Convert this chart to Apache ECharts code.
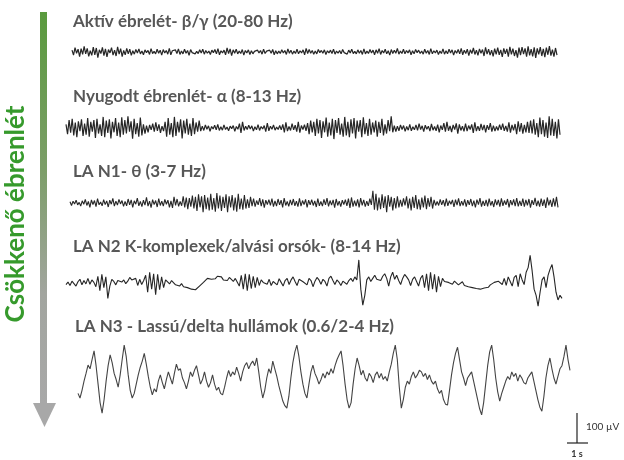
<!DOCTYPE html>
<html><head><meta charset="utf-8">
<script src="https://cdn.jsdelivr.net/npm/echarts@6/dist/echarts.min.js"></script>
<style>html,body{margin:0;padding:0;background:#fff}#c{width:624px;height:460px}</style>
</head><body><div id="c"></div>
<script>
// Trace titles
const titles = [
  "Aktív ébrelét- β/γ (20-80 Hz)",
  "Nyugodt ébrenlét- α (8-13 Hz)",
  "LA N1- θ (3-7 Hz)",
  "LA N2 K-komplexek/alvási orsók- (8-14 Hz)",
  "LA N3 - Lassú/delta hullámok (0.6/2-4 Hz)"
];
const axisTitle = "Csökkenő ébrenlét";
const scaleV = "100 µV";
const scaleT = "1 s";

// EEG traces in µV
const betaGamma = [
6,-10,14,-4,9,-15,11,-8,18,-6,12,-14,4,-11,16,-9,13,-18,7,-5,
15,-12,10,-16,8,-3,14,-10,6,-13,17,-7,11,-15,5,-9,12,-6,9,-11,
4,-7,8,-3,10,-6,3,-9,7,-2,5,-8,11,-5,2,-6,9,-4,6,-10,
8,-3,5,-7,12,-9,4,-2,7,-5,10,-8,3,-6,9,-4,5,-11,8,-2,
4,-6,2,-5,7,-3,9,-7,5,-4,3,-8,6,-2,8,-6,11,-9,4,-3,
6,-9,13,-5,10,-12,7,-4,9,-6,3,-5,8,-10,5,-3,7,-8,4,-6,
2,-4,6,-3,5,-7,9,-5,3,-2,6,-4,8,-9,4,-6,3,-5,7,-3,
5,-8,10,-4,6,-7,3,-5,9,-6,4,-3,7,-9,12,-5,8,-4,5,-7,
3,-6,8,-2,5,-4,7,-8,4,-3,6,-5,9,-7,3,-4,5,-6,8,-2,
4,-7,6,-3,9,-5,2,-6,7,-4,5,-8,10,-6,3,-5,8,-3,6,-9,
7,-4,11,-8,5,-3,9,-6,4,-10,8,-5,6,-4,12,-7,3,-5,9,-6,
5,-3,7,-9,4,-6,8,-2,6,-5,3,-7,9,-4,5,-8,11,-6,4,-3,
6,-8,3,-5,10,-7,4,-6,9,-3,7,-10,5,-4,8,-6,12,-9,6,-5,
9,-12,7,-5,13,-8,6,-11,10,-4,8,-13,15,-7,9,-10,6,-14,11,-8,
14,-9,7,-16,12,-6,10,-15,17,-8,11,-13,6,-18,14,-10,16,-7,12,-15,
18,-11,9,-14,15,-19,12,-8,16,-13,10,-17,14,-9,19,-12,8,-15,13,-10];

const alpha = [
12,-20,26,-15,30,-24,18,-30,22,-10,28,-26,14,-22,32,-28,20,-12,26,-32,
30,-18,12,-26,36,-30,24,-16,28,-34,20,-14,32,-26,18,-30,35,-22,26,-18,
38,-12,22,-35,30,-20,16,-28,34,-24,12,-18,8,-14,10,-6,14,-12,18,-9,
12,-16,6,-10,20,-28,32,-22,16,-30,36,-26,20,-14,28,-34,24,-18,30,-22,
14,-26,32,-20,18,-12,24,-10,6,-8,10,-4,7,-11,5,-3,9,-6,12,-8,
4,-7,10,-5,3,-9,6,-2,8,-11,5,-4,14,-16,20,-8,6,-5,9,-3,
7,-10,4,-6,11,-8,5,-3,8,-12,16,-9,6,-4,10,-7,3,-5,8,-6,
12,-14,18,-10,5,-8,14,-6,9,-12,20,-15,8,-5,11,-9,16,-20,24,-14,
20,-26,30,-18,26,-32,22,-14,34,-28,18,-24,30,-36,26,-16,32,-22,14,-28,
36,-24,20,-30,28,-18,32,-34,24,-12,26,-30,35,-20,16,-26,30,-22,18,-14,
24,-28,20,-16,30,-24,12,-18,26,-10,38,-14,8,-12,6,-9,10,-5,8,-11,
5,-7,12,-9,4,-6,10,-8,14,-5,7,-12,9,-4,6,-10,13,-7,5,-9,
11,-14,8,-6,16,-12,20,-9,7,-13,10,-5,15,-18,12,-8,6,-11,14,-10,
8,-5,12,-16,18,-10,6,-9,13,-7,10,-14,9,-6,16,-12,8,-10,5,-8,
11,-6,14,-9,7,-12,18,-15,10,-8,13,-20,22,-12,16,-18,10,-14,20,-16,
24,-18,28,-22,16,-30,34,-20,26,-28,18,-32,38,-24,30,-26,20,-34,28,-22];

const theta = [
4,-8,6,-3,9,-6,2,-10,7,-4,12,-8,5,-14,10,-5,8,-12,14,-6,
3,-9,11,-5,7,-13,9,-4,15,-10,6,-7,12,-3,8,-11,5,-9,13,-6,
10,-14,7,-4,16,-9,5,-12,9,-7,18,-10,6,-15,11,-5,8,-13,14,-8,
6,-10,12,-4,9,-14,7,-16,20,-8,13,-11,5,-9,22,-14,18,-20,16,-12,
24,-18,20,-26,28,-14,22,-30,26,-20,18,-24,30,-22,16,-28,32,-18,24,-26,
20,-16,28,-30,22,-14,26,-24,18,-28,30,-20,14,-22,26,-18,12,-16,20,-10,
14,-12,8,-6,16,-10,12,-15,9,-5,11,-8,14,-12,7,-10,13,-6,9,-14,
16,-8,5,-11,10,-7,13,-9,6,-12,15,-10,8,-5,12,-14,9,-6,11,-8,
7,-13,14,-9,5,-10,12,-6,16,-11,8,-7,10,-15,13,-8,6,-12,9,-5,
11,-9,14,-16,18,-12,8,-10,12,-14,16,-8,10,-12,6,-9,14,-6,40,-22,
30,-24,18,-20,28,-16,22,-30,26,-12,20,-24,16,-18,22,-14,10,-12,15,-8,
22,-18,14,-24,20,-16,26,-20,12,-22,18,-14,24,-20,16,-12,20,-18,10,-8,
5,-8,12,-6,9,-11,14,-9,7,-4,10,-13,11,-7,15,-10,6,-8,12,-12,
9,-6,13,-10,8,-14,11,-5,16,-12,7,-9,10,-11,14,-8,6,-13,12,-7,
10,-12,15,-9,8,-6,13,-14,9,-7,12,-10,16,-11,7,-9,14,-12,10,-8,
13,-15,9,-6,17,-10,8,-12,14,-9,11,-16,18,-8,10,-13,15,-11,20,-14];

const n2 = [
-5,3,-8,6,-2,-10,4,12,-6,8,-3,15,-4,10,2,-12,22,-25,28,-15,
20,-50,-10,12,5,-6,8,14,3,10,-2,6,18,10,4,15,-8,12,-5,8,
25,-30,35,-20,30,-38,28,-22,20,-15,10,5,-3,8,2,-6,-4,-10,-2,-12,
-8,-15,-10,-20,-14,-22,-16,-10,-5,2,8,15,20,12,18,14,22,16,20,10,
14,8,18,12,5,15,20,-10,25,-20,30,-25,28,-18,22,-15,18,-8,10,2,
8,-4,12,-8,5,10,-6,14,2,-10,8,15,-5,10,20,5,-8,12,18,4,
10,-6,15,8,-12,6,18,10,-4,12,5,-10,15,22,8,-5,10,3,-8,6,
12,-4,8,15,5,20,10,75,-20,-72,-40,10,20,5,15,25,12,18,8,22,
30,15,-10,20,35,12,25,8,-5,15,28,20,10,-8,12,20,5,-10,15,25,
-15,30,-25,35,-20,28,-30,22,-12,15,5,10,2,8,-4,6,0,-6,-2,4,
-8,-4,-12,-6,-15,-10,-18,-12,-20,-14,-16,-10,-14,-6,-8,2,-4,6,10,-5,
15,-8,20,5,-10,18,25,-12,30,10,-5,35,50,90,40,-20,-40,-75,-30,10,
20,-15,25,45,60,20,-30,-55,-40,-50];

const delta = [
-50,-65,-40,-10,15,42,30,60,88,40,-20,-80,-114,-70,-10,40,75,50,15,-5,
-30,10,60,107,70,10,-40,-65,-50,-20,10,35,55,80,45,5,-30,-55,-35,-45,
-10,10,-15,-35,-5,20,0,-20,15,45,25,30,0,-15,-35,-10,20,5,25,40,
10,-20,-5,20,-10,-30,-15,10,-20,-40,-30,-50,-55,-30,0,25,5,20,10,35,
15,-10,20,40,50,30,45,55,40,65,20,-30,-65,-40,0,30,15,55,30,5,
-25,-50,-75,-90,-98,-60,0,50,85,107,70,20,-20,-50,-65,-20,20,42,15,0,
-20,-5,15,0,20,10,30,15,40,60,75,88,40,-20,-70,-98,-80,-20,30,65,
40,10,25,0,-10,15,5,-15,10,20,0,15,-5,5,-10,20,45,80,107,60,
-30,-98,-70,-30,-10,-20,5,20,0,10,25,20,5,15,-5,10,-10,-20,-10,-35,
-50,-40,-70,-85,-88,-40,10,50,80,100,60,20,0,-25,0,10,20,-10,-40,-70,
-100,-120,-80,-20,40,85,107,60,0,-45,-75,-50,-30,-10,5,-5,20,5,15,-10,
10,0,-15,-20,0,10,20,-10,-40,-70,-95,-108,-60,0,40,65,30,0,-20,5,
30,40,70,107,60,25];

const traces = [betaGamma, alpha, theta, n2, delta];

// layout (pixels)
const centers = [52, 128, 203, 283, 378];
const lefts = [72, 66, 70, 66, 78];
const rights = [557, 560, 558, 562, 570];
const titleY = [22, 97, 172, 247, 327];
const titleX = [73, 73, 73, 73, 75];
const lineColors = ['#262626', '#262626', '#262626', '#262626', '#444444'];
const lineWidths = [1.2, 1.2, 1.1, 1.1, 1.1];

const grids = [], xAxes = [], yAxes = [], series = [];
traces.forEach((d, k) => {
  grids.push({left: lefts[k], width: rights[k] - lefts[k], top: centers[k] - 40, height: 80});
  xAxes.push({type: 'category', gridIndex: k, show: false, boundaryGap: false,
    data: d.map((_, i) => i)});
  yAxes.push({type: 'value', gridIndex: k, show: false, min: -130, max: 130});
  series.push({type: 'line', xAxisIndex: k, yAxisIndex: k, data: d, symbol: 'none',
    silent: true, animation: false,
    lineStyle: {color: lineColors[k], width: lineWidths[k]}});
});

const graphic = [];
// gradient arrow
const grad = {type: 'linear', x: 0, y: 0, x2: 0, y2: 1, colorStops: [
  {offset: 0, color: '#5a9a3e'}, {offset: 0.4, color: '#7c9e68'},
  {offset: 0.72, color: '#a2a59f'}, {offset: 1, color: '#a8a8a8'}]};
graphic.push({type: 'rect', shape: {x: 40, y: 12, width: 7, height: 392}, style: {fill: grad}, silent: true});
graphic.push({type: 'polygon', shape: {points: [[33, 403], [56, 403], [44.5, 427]]}, style: {fill: '#a8a8a8'}, silent: true});
graphic.push({type: 'text', x: 16, y: 214, rotation: Math.PI / 2,
  style: {text: axisTitle, fill: '#369a2c', font: 'bold 26px Lato, "Open Sans", sans-serif',
    textAlign: 'center', textVerticalAlign: 'middle'}, silent: true});
titles.forEach((t, k) => graphic.push({type: 'text', x: titleX[k], y: titleY[k],
  style: {text: t, fill: '#575757', font: 'bold 17px Lato, "Open Sans", sans-serif',
    textAlign: 'left', textVerticalAlign: 'middle'}, silent: true}));
// scale bar
graphic.push({type: 'line', shape: {x1: 577, y1: 413, x2: 577, y2: 443}, style: {stroke: '#222', lineWidth: 1.2}});
graphic.push({type: 'line', shape: {x1: 567, y1: 443, x2: 588, y2: 443}, style: {stroke: '#222', lineWidth: 1.2}});
graphic.push({type: 'text', x: 586, y: 427, style: {text: scaleV, fill: '#333', font: '10px Lato, sans-serif', textVerticalAlign: 'middle'}});
graphic.push({type: 'text', x: 577, y: 454, style: {text: scaleT, fill: '#333', font: 'bold 9px Lato, sans-serif', textAlign: 'center', textVerticalAlign: 'middle'}});

const chart = echarts.init(document.getElementById('c'), null, {renderer: 'canvas'});
chart.setOption({animation: false, grid: grids, xAxis: xAxes, yAxis: yAxes, series, graphic});
</script></body></html>
